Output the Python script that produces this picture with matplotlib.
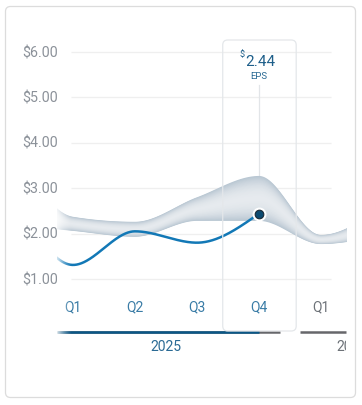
import numpy as np
import matplotlib
matplotlib.use("Agg")
import matplotlib.pyplot as plt
from matplotlib.patches import FancyBboxPatch
from matplotlib.transforms import IdentityTransform, Bbox
from matplotlib.colors import to_rgb

# ---------------- data ----------------
quarter_idx = [-1, 0, 1, 2, 3, 4, 5]          # Q4'24 .. Q2'26
tick_labels = ["Q1", "Q2", "Q3", "Q4", "Q1"]
tick_idx = [0, 1, 2, 3, 4]
years = ["2025", "2026"]
year_quarters = [[0, 1, 2, 3], [4, 5, 6, 7]]
eps_idx = [-1, 0, 1, 2, 3]
eps_values = [3.0, 1.31, 2.05, 1.80, 2.44]
band_upper = [4.0, 2.37, 2.26, 2.80, 3.27, 1.97, 2.63]
band_lower = [2.2, 2.06, 1.93, 2.28, 2.28, 1.77, 1.97]
y_ticks = [1, 2, 3, 4, 5, 6]
y_labels = ["$1.00", "$2.00", "$3.00", "$4.00", "$5.00", "$6.00"]
current_idx = 3
current_label = "2.44"

W, H = 362, 406
plt.rcParams['font.family'] = ['Roboto', 'DejaVu Sans']


def monotone(xs, ys, n=400):
    xs = np.asarray(xs, float); ys = np.asarray(ys, float)
    h = np.diff(xs); s = np.diff(ys) / h
    m = np.zeros_like(ys)
    for i in range(1, len(xs) - 1):
        s0, s1 = s[i - 1], s[i]
        p = (s0 * h[i] + s1 * h[i - 1]) / (h[i - 1] + h[i])
        m[i] = (np.sign(s0) + np.sign(s1)) * min(abs(s0), abs(s1), 0.5 * abs(p))
    m[0] = (3 * s[0] - m[1]) / 2
    m[-1] = (3 * s[-1] - m[-2]) / 2
    X, Y = [], []
    for i in range(len(xs) - 1):
        t = np.linspace(0, 1, n // (len(xs) - 1), endpoint=False)
        h00 = 2*t**3 - 3*t**2 + 1; h10 = t**3 - 2*t**2 + t
        h01 = -2*t**3 + 3*t**2; h11 = t**3 - t**2
        X.append(xs[i] + t * h[i])
        Y.append(h00*ys[i] + h10*h[i]*m[i] + h01*ys[i+1] + h11*h[i]*m[i+1])
    X.append([xs[-1]]); Y.append([ys[-1]])
    return np.concatenate(X), np.concatenate(Y)


fig = plt.figure(figsize=(W / 100, H / 100), dpi=100)
fig.patch.set_facecolor("white")

axL, axR, axT, axB = 57, 347, 30, 333
ax = fig.add_axes([axL / W, (H - axB) / H, (axR - axL) / W, (axB - axT) / H])
px_per_q = 62.0
q0_px = 73.0
px_per_d = 45.4
d1_px = 280.0
XL = ((axL - q0_px) / px_per_q, (axR - q0_px) / px_per_q)
YL = (1 + (d1_px - axB) / px_per_d, 1 + (d1_px - axT) / px_per_d)
ax.set_xlim(*XL)
ax.set_ylim(*YL)
ax.axis("off")

# card
card = FancyBboxPatch((5.5, H - 398.5), 350, 391, boxstyle="round,pad=0,rounding_size=5",
                      transform=IdentityTransform(), facecolor="none", edgecolor="#dcdcdc",
                      lw=0.9, zorder=0)
fig.patches.append(card)

# gridlines
x0g = tick_idx[0] - 0.03
x1g = tick_idx[-1] + 0.16
for yv in y_ticks:
    ax.plot([x0g, x1g], [yv, yv], color="#efefef", lw=0.9, zorder=1, solid_capstyle="butt")
for yv, lab in zip(y_ticks, y_labels):
    ax.text(0.005, yv, lab, transform=ax.get_yaxis_transform(), ha="right", va="center",
            fontsize=10.3, color="#8b9199", clip_on=False)

# highlight box around current quarter
fig.canvas.draw()
bx0 = ax.transData.transform((current_idx - 0.585, 0))[0]
bx1 = ax.transData.transform((current_idx + 0.600, 0))[0]
box = FancyBboxPatch((bx0, H - 332), bx1 - bx0, 291, boxstyle="round,pad=0,rounding_size=5",
                     transform=IdentityTransform(), facecolor="none", edgecolor="#e4e7ea",
                     lw=0.9, zorder=1)
fig.patches.append(box)

# band with gradient
bx, bu = monotone(quarter_idx, band_upper, 1200)
_, bl = monotone(quarter_idx, band_lower, 1200)
mid = (bu + bl) / 2
half = (bu - bl) / 2
edge_c = np.array(to_rgb("#b9c7d3"))
cent_c = np.array(to_rgb("#e6eaee"))
for k in np.linspace(1, 0.04, 26):
    c = cent_c + (edge_c - cent_c) * (k ** 2.2)
    ax.fill_between(bx, mid - k * half, mid + k * half, color=c, lw=0, zorder=2)

# EPS line
lx, ly = monotone(eps_idx, eps_values, 800)
ax.plot(lx, ly, color="#1278b6", lw=1.8, zorder=4, solid_capstyle="round")

# vertical guide line
top_v = 1 + (d1_px - 86) / px_per_d
ax.plot([current_idx, current_idx], [eps_values[-1], top_v], color="#e2e5e8", lw=0.9, zorder=1.5)

# current point
ax.plot([current_idx], [eps_values[-1]], "o", ms=9, color="white", zorder=5)
ax.plot([current_idx], [eps_values[-1]], "o", ms=6.2, markerfacecolor="#0c4a70",
        markeredgecolor="#1b2a36", mew=0.8, zorder=6)

# value label
ax.text(current_idx + 0.02, 0.893, current_label, transform=ax.get_xaxis_transform(),
        ha="center", va="center", fontsize=11, color="#1e5f8a", clip_on=False)
ax.text(current_idx - 0.27, 0.918, "$", transform=ax.get_xaxis_transform(),
        ha="center", va="center", fontsize=6.5, color="#1e5f8a", clip_on=False)
ax.text(current_idx, 0.848, "EPS", transform=ax.get_xaxis_transform(),
        ha="center", va="center", fontsize=6.8, color="#2a6a94", clip_on=False)

# x tick labels
for qi, lab in zip(tick_idx, tick_labels):
    col = "#3a7ca6" if qi <= current_idx else "#6d7278"
    ax.text(qi, (axB - 307) / (axB - axT), lab, transform=ax.get_xaxis_transform(),
            ha="center", va="center", fontsize=10, color=col, clip_on=False)

# year bars and labels (limited to the visible x-range)
gap = 0.31
for yr, qs in zip(years, year_quarters):
    a = max(qs[0] - 0.5 + gap / 2, XL[0])
    b = min(qs[-1] + 0.5 - gap / 2, XL[1] - 0.01)
    ax.plot([a, b], [0, 0], transform=ax.get_xaxis_transform(), color="#66676b",
            lw=1.8, solid_capstyle="butt", zorder=3, clip_on=False)
    if qs[0] <= current_idx:
        ax.plot([a, current_idx], [0, 0], transform=ax.get_xaxis_transform(),
                color="#0a5787", lw=1.8, solid_capstyle="butt", zorder=3.5, clip_on=False)

ax.text(np.mean(year_quarters[0]), (axB - 347) / (axB - axT), years[0],
        transform=ax.get_xaxis_transform(), ha="center", va="center",
        fontsize=10, color="#2a6a94", clip_on=False)
t2 = ax.text(year_quarters[1][0] + 0.25, (axB - 347) / (axB - axT), years[1],
             transform=ax.get_xaxis_transform(), ha="left", va="center",
             fontsize=10, color="#6d7278")
t2.set_clip_on(True)
t2.set_clip_box(Bbox.from_extents(0, 0, axR - 1, H))

# left fade (plot area and bottom bar)
fade = np.ones((1, 64, 4))
fade[0, :, 3] = np.linspace(0.85, 0.0, 64) ** 1.3
ax.imshow(fade, extent=[XL[0], -0.03, YL[0] - 0.2, YL[1]], aspect="auto",
          zorder=7, interpolation="bilinear", clip_on=False)
ax.set_xlim(*XL)
ax.set_ylim(*YL)

fig.savefig("out.png", dpi=100, facecolor="white")
